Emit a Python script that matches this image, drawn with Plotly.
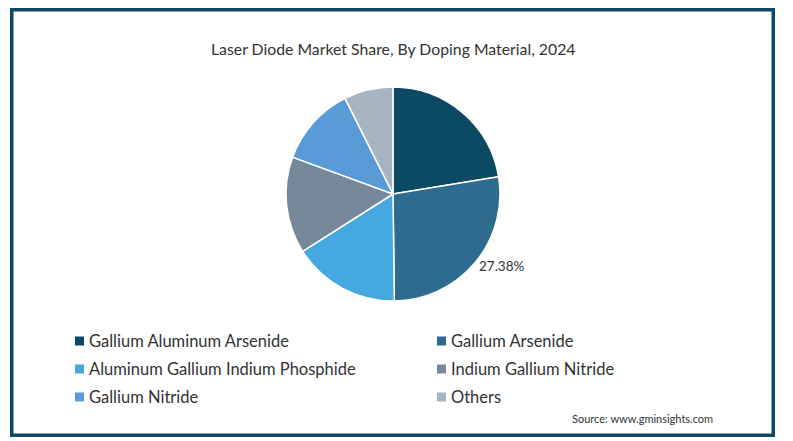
import plotly.graph_objects as go

title = "Laser Diode Market Share, By Doping Material, 2024"
labels = ["Gallium Aluminum Arsenide", "Gallium Arsenide", "Aluminum Gallium Indium Phosphide",
          "Indium Gallium Nitride", "Gallium Nitride", "Others"]
values = [22.42, 27.38, 16.2, 14.6, 12.0, 7.4]
shown_label = [False, True, False, False, False, False]
colors = ["#0b4a63", "#2f6b8f", "#45a9df", "#76889a", "#5a9ad6", "#a7b5c0"]
source = "Source: www.gminsights.com"

W, H = 793, 441
FONT = "Lato"

def px(x):
    return x / W

def py(y):
    return 1 - y / H

texts = [f"{v:.2f}%" if s else "" for v, s in zip(values, shown_label)]

fig = go.Figure(go.Pie(
    labels=labels,
    values=values,
    text=texts,
    textinfo="text",
    textposition="outside",
    textfont=dict(family=FONT, size=13.5, color="#333333"),
    sort=False,
    direction="clockwise",
    rotation=0,
    marker=dict(colors=colors, line=dict(color="white", width=1.5)),
    domain=dict(x=[px(286), px(500)], y=[py(301), py(87)]),
    showlegend=False,
    hoverinfo="label+percent",
))

# frame
fig.add_shape(type="rect", xref="paper", yref="paper",
              x0=px(11.75), x1=px(773.25), y0=py(435.25), y1=py(9.75),
              line=dict(color="#0d4a63", width=3.5), fillcolor="rgba(0,0,0,0)", layer="below")

# title
fig.add_annotation(text=title, xref="paper", yref="paper", x=px(393), y=py(48),
                   showarrow=False, xanchor="center", yanchor="middle",
                   font=dict(family=FONT, size=15.8, color="#333333"))

# legend (manual, two columns)
col_x = [75, 437]
row_y = [341, 369, 397]
sq = 9
for i, (lab, col) in enumerate(zip(labels, colors)):
    cx = col_x[i % 2]
    cy = row_y[i // 2]
    fig.add_shape(type="rect", xref="paper", yref="paper",
                  x0=px(cx), x1=px(cx + sq), y0=py(cy + sq / 2), y1=py(cy - sq / 2),
                  line=dict(width=0), fillcolor=col)
    fig.add_annotation(text=lab, xref="paper", yref="paper", x=px(cx + 12), y=py(cy),
                       showarrow=False, xanchor="left", yanchor="middle",
                       font=dict(family=FONT, size=16.5, color="#333333"))

fig.add_annotation(text=source, xref="paper", yref="paper", x=px(715), y=py(418),
                   showarrow=False, xanchor="right", yanchor="middle",
                   font=dict(family=FONT, size=11, color="#333333"))

fig.update_layout(width=W, height=H, margin=dict(l=0, r=0, t=0, b=0),
                  paper_bgcolor="white", plot_bgcolor="white")

fig.write_html("out.html", config={"displayModeBar": False},
               post_script="document.body.style.margin='0';document.body.style.overflow='hidden';")
